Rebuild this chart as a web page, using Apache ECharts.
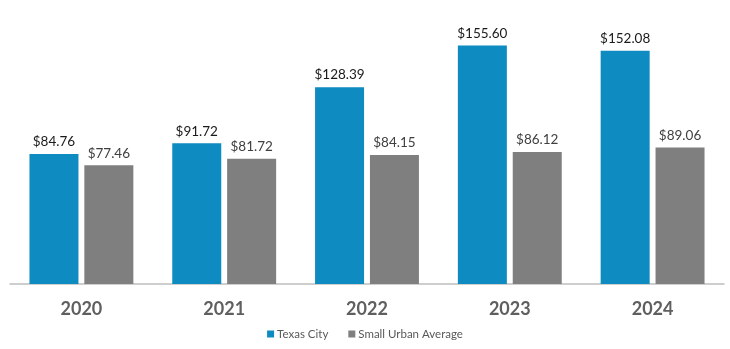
<!DOCTYPE html>
<html>
<head>
<meta charset="utf-8">
<script src="https://cdn.jsdelivr.net/npm/echarts@6/dist/echarts.min.js"></script>
<style>
  html, body { margin: 0; padding: 0; background: #fff; }
  #chart { width: 730px; height: 349px; }
</style>
</head>
<body>
<div id="chart"></div>
<script>
// Average cost per year: Texas City vs. small urban average
const years = ['2020', '2021', '2022', '2023', '2024'];
const texasCity = [84.76, 91.72, 128.39, 155.60, 152.08];
const smallUrbanAverage = [77.46, 81.72, 84.15, 86.12, 89.06];
const seriesNames = ['Texas City', 'Small Urban Average'];

const FONT = 'Lato, "Open Sans", sans-serif';
const money = p => '$' + p.value.toFixed(2);

const chart = echarts.init(document.getElementById('chart'), null, { renderer: 'canvas' });
chart.setOption({
  animation: false,
  textStyle: { fontFamily: FONT },
  grid: { left: 10, right: 6, top: 8, bottom: 65, containLabel: false },
  legend: {
    data: seriesNames,
    bottom: 4,
    left: 'center',
    itemWidth: 7,
    itemHeight: 7,
    itemGap: 20,
    icon: 'rect',
    textStyle: { color: '#595959', fontSize: 11.5, fontFamily: FONT, padding: [0, 0, 0, -2] }
  },
  xAxis: {
    type: 'category',
    data: years,
    axisLine: { lineStyle: { color: '#bfbfbf', width: 1.5 } },
    axisTick: { show: false },
    axisLabel: { color: '#5f5f5f', fontSize: 18, fontWeight: 'bold', margin: 16, fontFamily: FONT }
  },
  yAxis: {
    type: 'value',
    min: 0,
    max: 180,
    show: false,
    splitLine: { show: false }
  },
  series: [
    {
      name: seriesNames[0],
      type: 'bar',
      data: texasCity,
      barWidth: 49,
      barGap: '12%',
      itemStyle: { color: '#0e8bc0' },
      label: { show: true, position: 'top', distance: 5, color: '#1a1a1a', fontSize: 13.5, fontFamily: FONT, formatter: money }
    },
    {
      name: seriesNames[1],
      type: 'bar',
      data: smallUrbanAverage,
      barWidth: 49,
      itemStyle: { color: '#7f7f7f' },
      label: { show: true, position: 'top', distance: 5, color: '#404040', fontSize: 13.5, fontFamily: FONT, formatter: money }
    }
  ]
});
</script>
</body>
</html>
